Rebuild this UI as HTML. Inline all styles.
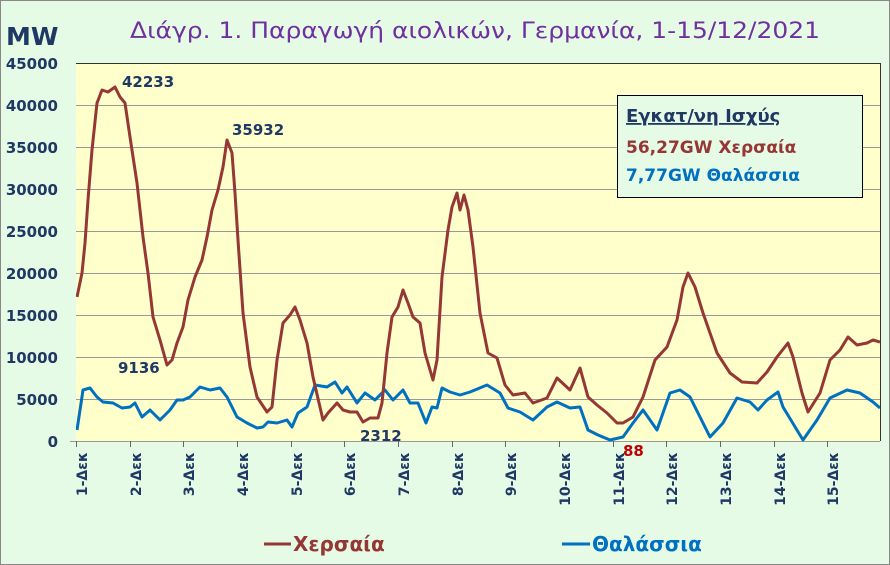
<!DOCTYPE html>
<html><head><meta charset="utf-8"><style>
html,body{margin:0;padding:0;background:#e6fbe6;}
svg{display:block;font-family:"DejaVu Sans","Liberation Sans",sans-serif;}
</style></head><body>
<svg width="890" height="565" viewBox="0 0 890 565" xmlns="http://www.w3.org/2000/svg">
<rect x="0.5" y="0.5" width="889" height="564" fill="#e6fbe6" stroke="#888"/>
<text x="475" y="38" text-anchor="middle" font-size="22" fill="#7030a0" textLength="690" lengthAdjust="spacingAndGlyphs">Διάγρ. 1. Παραγωγή αιολικών, Γερμανία, 1-15/12/2021</text>
<text x="6" y="45" font-size="25" font-weight="bold" fill="#1f3864">MW</text>
<rect x="76" y="63" width="804" height="378" fill="#ffffcc"/>
<g stroke="#999" stroke-width="1">
<line x1="76" x2="880" y1="63.5" y2="63.5" stroke="#333"/><line x1="76" x2="880" y1="105.5" y2="105.5"/><line x1="76" x2="880" y1="147.5" y2="147.5"/><line x1="76" x2="880" y1="189.5" y2="189.5"/><line x1="76" x2="880" y1="231.5" y2="231.5"/><line x1="76" x2="880" y1="273.5" y2="273.5"/><line x1="76" x2="880" y1="315.5" y2="315.5"/><line x1="76" x2="880" y1="357.5" y2="357.5"/><line x1="76" x2="880" y1="399.5" y2="399.5"/><line x1="70" x2="880" y1="441.5" y2="441.5"/>
<line x1="880.5" x2="880.5" y1="63" y2="441" stroke="#333"/>
</g>
<g font-size="15" font-weight="bold" fill="#1f3864" text-anchor="end">
<text x="58" y="69">45000</text><text x="58" y="111">40000</text><text x="58" y="153">35000</text><text x="58" y="195">30000</text><text x="58" y="237">25000</text><text x="58" y="279">20000</text><text x="58" y="321">15000</text><text x="58" y="363">10000</text><text x="58" y="405">5000</text><text x="58" y="447">0</text>
</g>
<g stroke="#666">
<line x1="76.5" x2="76.5" y1="441" y2="447"/><line x1="130.5" x2="130.5" y1="441" y2="447"/><line x1="183.5" x2="183.5" y1="441" y2="447"/><line x1="237.5" x2="237.5" y1="441" y2="447"/><line x1="291.5" x2="291.5" y1="441" y2="447"/><line x1="344.5" x2="344.5" y1="441" y2="447"/><line x1="398.5" x2="398.5" y1="441" y2="447"/><line x1="452.5" x2="452.5" y1="441" y2="447"/><line x1="505.5" x2="505.5" y1="441" y2="447"/><line x1="559.5" x2="559.5" y1="441" y2="447"/><line x1="613.5" x2="613.5" y1="441" y2="447"/><line x1="666.5" x2="666.5" y1="441" y2="447"/><line x1="720.5" x2="720.5" y1="441" y2="447"/><line x1="774.5" x2="774.5" y1="441" y2="447"/><line x1="827.5" x2="827.5" y1="441" y2="447"/>
</g>
<g font-size="14" font-weight="bold" fill="#1f3864" text-anchor="end">
<text transform="translate(87,452) rotate(-90)">1-Δεκ</text>
<text transform="translate(141,452) rotate(-90)">2-Δεκ</text>
<text transform="translate(194,452) rotate(-90)">3-Δεκ</text>
<text transform="translate(248,452) rotate(-90)">4-Δεκ</text>
<text transform="translate(302,452) rotate(-90)">5-Δεκ</text>
<text transform="translate(355,452) rotate(-90)">6-Δεκ</text>
<text transform="translate(409,452) rotate(-90)">7-Δεκ</text>
<text transform="translate(463,452) rotate(-90)">8-Δεκ</text>
<text transform="translate(516,452) rotate(-90)">9-Δεκ</text>
<text transform="translate(570,452) rotate(-90)">10-Δεκ</text>
<text transform="translate(624,452) rotate(-90)">11-Δεκ</text>
<text transform="translate(677,452) rotate(-90)">12-Δεκ</text>
<text transform="translate(731,452) rotate(-90)">13-Δεκ</text>
<text transform="translate(785,452) rotate(-90)">14-Δεκ</text>
<text transform="translate(838,452) rotate(-90)">15-Δεκ</text>
</g>
<defs><clipPath id="c"><rect x="76" y="60" width="804" height="385"/></clipPath></defs>
<g clip-path="url(#c)" fill="none" stroke-width="3" stroke-linejoin="round">
<polyline stroke="#0070c0" points="77,430 80,410 83,390 90,388 97,397 103,402 113,403 122,408 130,407 135,403 142,417 150,410 160,420 170,410 177,400 183,400 190,397 200,387 210,390 220,388 227,397 237,417 247,423 257,428 263,427 268,422 277,423 287,420 292,427 298,413 307,407 315,385 327,387 335,382 342,393 347,387 357,403 365,393 375,400 385,390 393,400 403,390 410,403 418,403 426,423 432,407 437,408 442,388 450,392 460,395 470,392 487,385 500,393 508,408 520,412 533,420 547,407 557,402 570,408 580,407 588,430 598,435 610,440 623,437 633,423 643,410 657,430 670,393 680,390 690,397 710,437 723,423 737,398 750,402 758,410 767,400 778,392 783,407 803,440 817,420 830,398 847,390 860,393 873,402 880,408"/>
<polyline stroke="#953735" points="77,297 82,273 85,243 88,200 92,150 97,103 102,90 108,92 115,87 120,97 125,103 130,137 137,183 143,237 148,273 153,317 160,340 167,365 172,360 177,343 183,327 188,300 195,277 202,260 207,237 212,210 218,190 223,167 227,140 232,153 235,193 238,240 243,313 250,367 257,397 267,412 272,407 277,360 283,323 290,315 295,307 300,320 307,343 313,377 323,420 328,413 337,403 343,410 350,412 357,412 363,422 370,418 378,418 382,403 387,353 392,317 398,307 403,290 408,303 413,317 420,323 425,353 433,380 437,360 442,277 448,230 452,207 457,193 460,210 464,195 468,210 473,247 480,313 488,353 497,358 505,385 513,395 525,393 533,403 547,398 557,378 570,390 580,368 588,397 597,405 607,413 617,423 623,423 633,417 643,397 655,360 667,347 677,320 683,287 688,273 695,287 703,313 717,353 730,373 742,382 757,383 767,372 777,357 788,343 793,357 802,393 808,412 820,393 830,360 840,350 848,337 857,345 867,343 873,340 880,342"/>
</g>
<g font-size="15" font-weight="bold" fill="#1f3864">
<text x="122" y="87">42233</text>
<text x="232" y="135">35932</text>
<text x="118" y="373">9136</text>
<text x="360" y="441">2312</text>
</g>
<text x="623" y="456" font-size="15" font-weight="bold" fill="#c00000">88</text>
<rect x="617.5" y="95.5" width="245" height="102" fill="#e6fbe6" stroke="#000"/>
<text x="626" y="122" font-size="18" font-weight="bold" fill="#1f3864" text-decoration="underline">Εγκατ/νη Ισχύς</text>
<text x="626" y="153" font-size="17" font-weight="bold" fill="#953735">56,27GW Χερσαία</text>
<text x="626" y="181" font-size="17" font-weight="bold" fill="#0070c0">7,77GW Θαλάσσια</text>
<line x1="264" x2="291" y1="544" y2="544" stroke="#953735" stroke-width="3"/>
<text x="293" y="551" font-size="20" font-weight="bold" fill="#953735">Χερσαία</text>
<line x1="562" x2="590" y1="544" y2="544" stroke="#0070c0" stroke-width="3"/>
<text x="592" y="551" font-size="20" font-weight="bold" fill="#0070c0">Θαλάσσια</text>
</svg>
</body></html>
